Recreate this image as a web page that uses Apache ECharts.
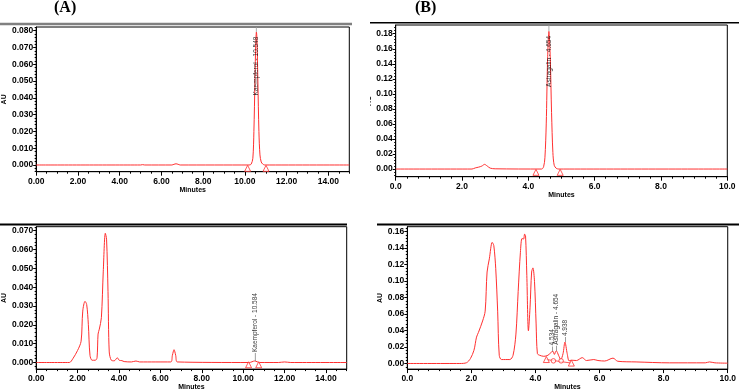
<!DOCTYPE html>
<html><head><meta charset="utf-8">
<script src="https://cdn.jsdelivr.net/npm/echarts@6/dist/echarts.min.js"></script>
<style>html,body{margin:0;padding:0;background:#fff}#c{width:739px;height:392px}</style>
</head><body><div id="c"></div>
<script>
// ---------- Panel A (standard kaempferol) ----------
const aTime = [0, 5.0, 5.1, 5.2, 6.5, 6.6, 6.7, 6.8, 6.9, 10.2, 10.3, 10.38, 10.43, 10.48, 10.52, 10.55, 10.58, 10.62, 10.67, 10.72, 10.78, 10.85, 10.95, 15];
const aAU   = [0, 0, 0.0002, 0, 0, 0.0004, 0.0007, 0.0004, 0, 0, 0.0005, 0.004, 0.02, 0.05, 0.073, 0.0792, 0.074, 0.05, 0.02, 0.006, 0.0018, 0.0006, 0, 0];
const aMarkTime = [10.13, 11.01];
const aMarkAU   = [-0.002, -0.002];
const aPeakName = ['Kaempferol - 10.548'];
const aPeakTime = [10.548];
const aPeakAU   = [0.0792];

// ---------- Panel B (standard astragalin) ----------
const bTime = [0, 2.3, 2.4, 2.5, 2.6, 2.68, 2.76, 2.85, 3.0, 4.4, 4.46, 4.5, 4.54, 4.58, 4.62, 4.66, 4.7, 4.74, 4.78, 4.84, 4.92, 10];
const bAU   = [0, 0, 0.0015, 0.0025, 0.004, 0.0062, 0.004, 0.0012, 0.0003, 0, 0.003, 0.015, 0.06, 0.145, 0.183, 0.15, 0.075, 0.022, 0.005, 0.001, 0, 0];
const bMarkTime = [4.23, 4.96];
const bMarkAU   = [-0.0044, -0.0044];
const bPeakName = ['Astragalin - 4.654'];
const bPeakTime = [4.62];
const bPeakAU   = [0.183];

// ---------- Panel C (sample, kaempferol) ----------
const cTime = [0, 1.6, 1.77, 2.0, 2.17, 2.25, 2.36, 2.44, 2.52, 2.6, 2.7, 2.86, 2.94, 2.99, 3.05, 3.15, 3.24, 3.34, 3.4, 3.47, 3.53, 3.63, 3.77, 3.92, 4.01, 4.14, 4.25, 4.6, 4.82, 5.0, 6.5, 6.58, 6.66, 6.74, 6.82, 10.3, 10.55, 10.8, 11.7, 12.0, 12.3, 15];
const cAU   = [0, 0, 0.002, 0.0064, 0.0113, 0.0273, 0.0325, 0.0308, 0.0203, 0.0038, 0.0012, 0.0012, 0.0025, 0.0151, 0.0177, 0.0238, 0.0481, 0.0686, 0.0655, 0.0377, 0.0056, 0.0012, 0.0009, 0.0025, 0.0012, 0.001, 0.0005, 0.0003, 0.0008, 0.0003, 0.0003, 0.0038, 0.0068, 0.0038, 0.0003, 0, 0.0008, 0, 0, 0.0003, 0, 0];
const cMarkTime = [10.26, 10.75];
const cMarkAU   = [-0.0012, -0.0012];
const cPeakName = ['Kaempferol - 10.584'];
const cPeakTime = [10.584];
const cPeakAU   = [0.0008];

// ---------- Panel D (sample, astragalin) ----------
const dTime = [0, 1.64, 1.85, 1.97, 2.08, 2.16, 2.22, 2.35, 2.43, 2.49, 2.56, 2.65, 2.70, 2.76, 2.82, 2.87, 2.94, 3.2, 3.3, 3.39, 3.46, 3.53, 3.58, 3.63, 3.66, 3.69, 3.73, 3.78, 3.83, 3.88, 3.92, 3.97, 4.02, 4.06, 4.13, 4.26, 4.39, 4.5, 4.55, 4.59, 4.65, 4.72, 4.79, 4.86, 4.92, 4.99, 5.05, 5.12, 5.28, 5.46, 5.59, 5.82, 5.95, 6.16, 6.42, 6.57, 7.14, 8.18, 9.3, 9.43, 9.6, 10];
const dAU   = [0, 0, 0.001, 0.006, 0.016, 0.032, 0.0377, 0.0516, 0.0635, 0.111, 0.127, 0.147, 0.143, 0.115, 0.0635, 0.0099, 0.0048, 0.0048, 0.0099, 0.0357, 0.0873, 0.135, 0.1517, 0.151, 0.157, 0.155, 0.107, 0.0397, 0.0675, 0.111, 0.116, 0.0993, 0.048, 0.012, 0.01, 0.0087, 0.01, 0.0139, 0.0147, 0.011, 0.0155, 0.01, 0.0048, 0.0119, 0.026, 0.012, 0.0032, 0.004, 0.0036, 0.0071, 0.0036, 0.0048, 0.0036, 0.003, 0.0065, 0.0027, 0.0019, 0.0008, 0.0008, 0.0019, 0.0008, 0.0004];
const dTriTime = [4.34, 5.12];
const dTriAU   = [0.0048, 0.0005];
const dDropTime = [4.56, 4.80];
const dDropAU   = [0.0032, 0.0032];
const dBaseTime = [4.34, 5.12];
const dBaseAU   = [0.0048, 0.0005];
const dPeakName = ['4.534', 'Astragalin - 4.654', '4.938'];
const dPeakTime = [4.534, 4.654, 4.938];
const dPeakAU   = [0.0147, 0.0155, 0.026];

// ---------- Tick labels ----------
const xTicks15 = [0, 2, 4, 6, 8, 10, 12, 14];
const xTicks10 = [0, 2, 4, 6, 8, 10];
const aYTicks = [0, 0.01, 0.02, 0.03, 0.04, 0.05, 0.06, 0.07, 0.08];
const bYTicks = [0, 0.02, 0.04, 0.06, 0.08, 0.10, 0.12, 0.14, 0.16, 0.18];
const cYTicks = [0, 0.01, 0.02, 0.03, 0.04, 0.05, 0.06, 0.07];
const dYTicks = [0, 0.02, 0.04, 0.06, 0.08, 0.10, 0.12, 0.14, 0.16];

const FONT = '"Liberation Sans", Arial, Helvetica, sans-serif';
const RED = '#ff3030';

function steps(lo, hi, step) {
  const out = [];
  const n0 = Math.ceil(lo / step - 1e-9), n1 = Math.floor(hi / step + 1e-9);
  for (let k = n0; k <= n1; k++) out.push(+(k * step).toFixed(6));
  return out;
}
const pairs = (t, v) => t.map((x, i) => [x, v[i]]);

const panels = [
  { time: aTime, au: aAU, grid: {left: 35, top: 27, width: 314.3, height: 144.7}, xMax: 15, yMin: -0.004, yMax: 0.0822,
    xTicks: xTicks15, xMinor: 0.5, xDec: 2, yTicks: aYTicks, yMinor: 0.002, yDec: 3, auGap: 25.5, minGap: 14.5,
    tri: [aMarkTime, aMarkAU], peaks: [aPeakName, aPeakTime, aPeakAU], mode: 'down' },
  { time: bTime, au: bAU, grid: {left: 395.7, top: 25, width: 331.6, height: 151.7}, xMax: 10, yMin: -0.0102, yMax: 0.1916,
    xTicks: xTicks10, xMinor: 1/3, xDec: 1, yTicks: bYTicks, yMinor: 0.004, yDec: 2, auGap: 22.5, minGap: 13,
    tri: [bMarkTime, bMarkAU], peaks: [bPeakName, bPeakTime, bPeakAU], mode: 'down' },
  { time: cTime, au: cAU, grid: {left: 35, top: 226.7, width: 311.7, height: 145}, xMax: 15, yMin: -0.0035, yMax: 0.0721,
    xTicks: xTicks15, xMinor: 0.5, xDec: 2, yTicks: cYTicks, yMinor: 0.002, yDec: 3, auGap: 26.5, minGap: 13,
    tri: [cMarkTime, cMarkAU], peaks: [cPeakName, cPeakTime, cPeakAU], mode: 'up', gap: 8 },
  { time: dTime, au: dAU, grid: {left: 407.3, top: 226.7, width: 321, height: 145}, xMax: 10, yMin: -0.0068, yMax: 0.166,
    xTicks: xTicks10, xMinor: 1/3, xDec: 1, yTicks: dYTicks, yMinor: 0.004, yDec: 2, auGap: 21.5, minGap: 14,
    tri: [dTriTime, dTriAU], drops: [dDropTime, dDropAU], base: [dBaseTime, dBaseAU], peaks: [dPeakName, dPeakTime, dPeakAU], mode: 'up', gap: 5 }
];

const grids = [], xAxes = [], yAxes = [], series = [];
const lblStyle = {fontSize: 8.5, fontWeight: 'bold', color: '#000', fontFamily: FONT};
const nameStyle = {fontSize: 7, fontWeight: 'bold', color: '#000', fontFamily: FONT};

panels.forEach((p, i) => {
  grids.push(Object.assign({show: true, borderColor: '#000', borderWidth: 1, backgroundColor: 'transparent'}, p.grid));
  const xi = xAxes.length, yi = yAxes.length;
  xAxes.push({
    type: 'value', gridIndex: i, min: 0, max: p.xMax, position: 'bottom',
    axisLine: {show: true, onZero: false, lineStyle: {color: '#000', width: 1}},
    axisTick: {show: true, inside: false, length: 4, customValues: p.xTicks, lineStyle: {color: '#000'}},
    axisLabel: Object.assign({customValues: p.xTicks, margin: 5, formatter: v => v.toFixed(p.xDec)}, lblStyle),
    splitLine: {show: false},
    name: 'Minutes', nameLocation: 'middle', nameGap: p.minGap, nameTextStyle: nameStyle
  });
  xAxes.push({
    type: 'value', gridIndex: i, min: 0, max: p.xMax, position: 'bottom',
    axisLine: {show: false, onZero: false},
    axisTick: {show: true, inside: false, length: 2, customValues: steps(0, p.xMax, p.xMinor), lineStyle: {color: '#000'}},
    axisLabel: {show: false}, splitLine: {show: false}
  });
  yAxes.push({
    type: 'value', gridIndex: i, min: p.yMin, max: p.yMax, position: 'left',
    axisLine: {show: true, onZero: false, lineStyle: {color: '#000', width: 1}},
    axisTick: {show: true, inside: false, length: 3, customValues: p.yTicks, lineStyle: {color: '#000'}},
    axisLabel: Object.assign({customValues: p.yTicks, margin: 3, formatter: v => v.toFixed(p.yDec)}, lblStyle),
    splitLine: {show: false},
    name: 'AU', nameLocation: 'middle', nameGap: p.auGap, nameRotate: 90, nameTextStyle: nameStyle
  });
  yAxes.push({
    type: 'value', gridIndex: i, min: p.yMin, max: p.yMax, position: 'left',
    axisLine: {show: false, onZero: false},
    axisTick: {show: true, inside: false, length: 1.5, customValues: steps(p.yMin, p.yMax, p.yMinor), lineStyle: {color: '#000'}},
    axisLabel: {show: false}, splitLine: {show: false}
  });

  series.push({
    type: 'line', xAxisIndex: xi, yAxisIndex: yi, data: pairs(p.time, p.au),
    symbol: 'none', smooth: 0.3, lineStyle: {color: RED, width: 1}, z: 3, silent: true
  });
  if (p.base) {
    series.push({type: 'line', xAxisIndex: xi, yAxisIndex: yi, data: pairs(p.base[0], p.base[1]),
      symbol: 'none', lineStyle: {color: RED, width: 0.8}, z: 3, silent: true});
  }
  series.push({
    type: 'scatter', xAxisIndex: xi, yAxisIndex: yi, data: pairs(p.tri[0], p.tri[1]),
    symbol: 'triangle', symbolSize: 6, itemStyle: {color: '#fff', borderColor: RED, borderWidth: 1}, z: 4, silent: true
  });
  if (p.drops) {
    series.push({
      type: 'scatter', xAxisIndex: xi, yAxisIndex: yi, data: pairs(p.drops[0], p.drops[1]),
      symbol: 'circle', symbolSize: 4.5, itemStyle: {color: '#fff', borderColor: RED, borderWidth: 1}, z: 4, silent: true
    });
  }
  const [names, pt, pa] = p.peaks;
  if (p.mode === 'down') {
    series.push({
      type: 'line', xAxisIndex: xi, yAxisIndex: yi, data: [[pt[0], pa[0]], [pt[0], p.yMax]],
      symbol: 'none', lineStyle: {color: '#9a9a9a', width: 0.8}, z: 2, silent: true
    });
    series.push({
      type: 'scatter', xAxisIndex: xi, yAxisIndex: yi, symbolSize: 1, itemStyle: {color: 'transparent'},
      data: pt.map((t, k) => ({value: [t, pa[k]], name: names[k]})),
      label: {show: true, formatter: q => q.name, rotate: 90, position: [0.5, 5], align: 'right', verticalAlign: 'middle',
        fontSize: 6.5, fontFamily: FONT, color: '#000'},
      z: 6, silent: true
    });
  } else {
    series.push({
      type: 'scatter', xAxisIndex: xi, yAxisIndex: yi,
      symbol: 'rect', symbolSize: [0.8, p.gap], symbolOffset: [0, -p.gap / 2], itemStyle: {color: '#666'},
      data: pt.map((t, k) => ({value: [t, pa[k]], name: names[k]})),
      label: {show: true, formatter: q => q.name, rotate: 90, position: 'top', distance: 1, align: 'left', verticalAlign: 'middle',
        fontSize: 6.5, fontFamily: FONT, color: '#000'},
      z: 6, silent: true
    });
  }
});

const chart = echarts.init(document.getElementById('c'), null, {renderer: 'canvas'});
chart.setOption({
  animation: false,
  backgroundColor: '#fff',
  grid: grids, xAxis: xAxes, yAxis: yAxes, series: series,
  graphic: [
    {type: 'text', left: 54, top: 0, style: {text: '(A)', font: 'bold 16px "Liberation Serif", "Times New Roman", serif', fill: '#000'}},
    {type: 'text', left: 415, top: 0, style: {text: '(B)', font: 'bold 16px "Liberation Serif", "Times New Roman", serif', fill: '#000'}},
    {type: 'line', shape: {x1: 0, y1: 24, x2: 352, y2: 24}, style: {stroke: '#808080', lineWidth: 2.5}},
    {type: 'line', shape: {x1: 370, y1: 22.8, x2: 739, y2: 22.8}, style: {stroke: '#000', lineWidth: 1.5}},
    {type: 'line', shape: {x1: 0, y1: 224.5, x2: 347, y2: 224.5}, style: {stroke: '#000', lineWidth: 2}},
    {type: 'line', shape: {x1: 377, y1: 224.5, x2: 739, y2: 224.5}, style: {stroke: '#000', lineWidth: 2}},
    {type: 'rect', z: 100, shape: {x: 352, y: 40, width: 18, height: 120}, style: {fill: '#fff'}}
  ]
});
</script>
</body></html>
